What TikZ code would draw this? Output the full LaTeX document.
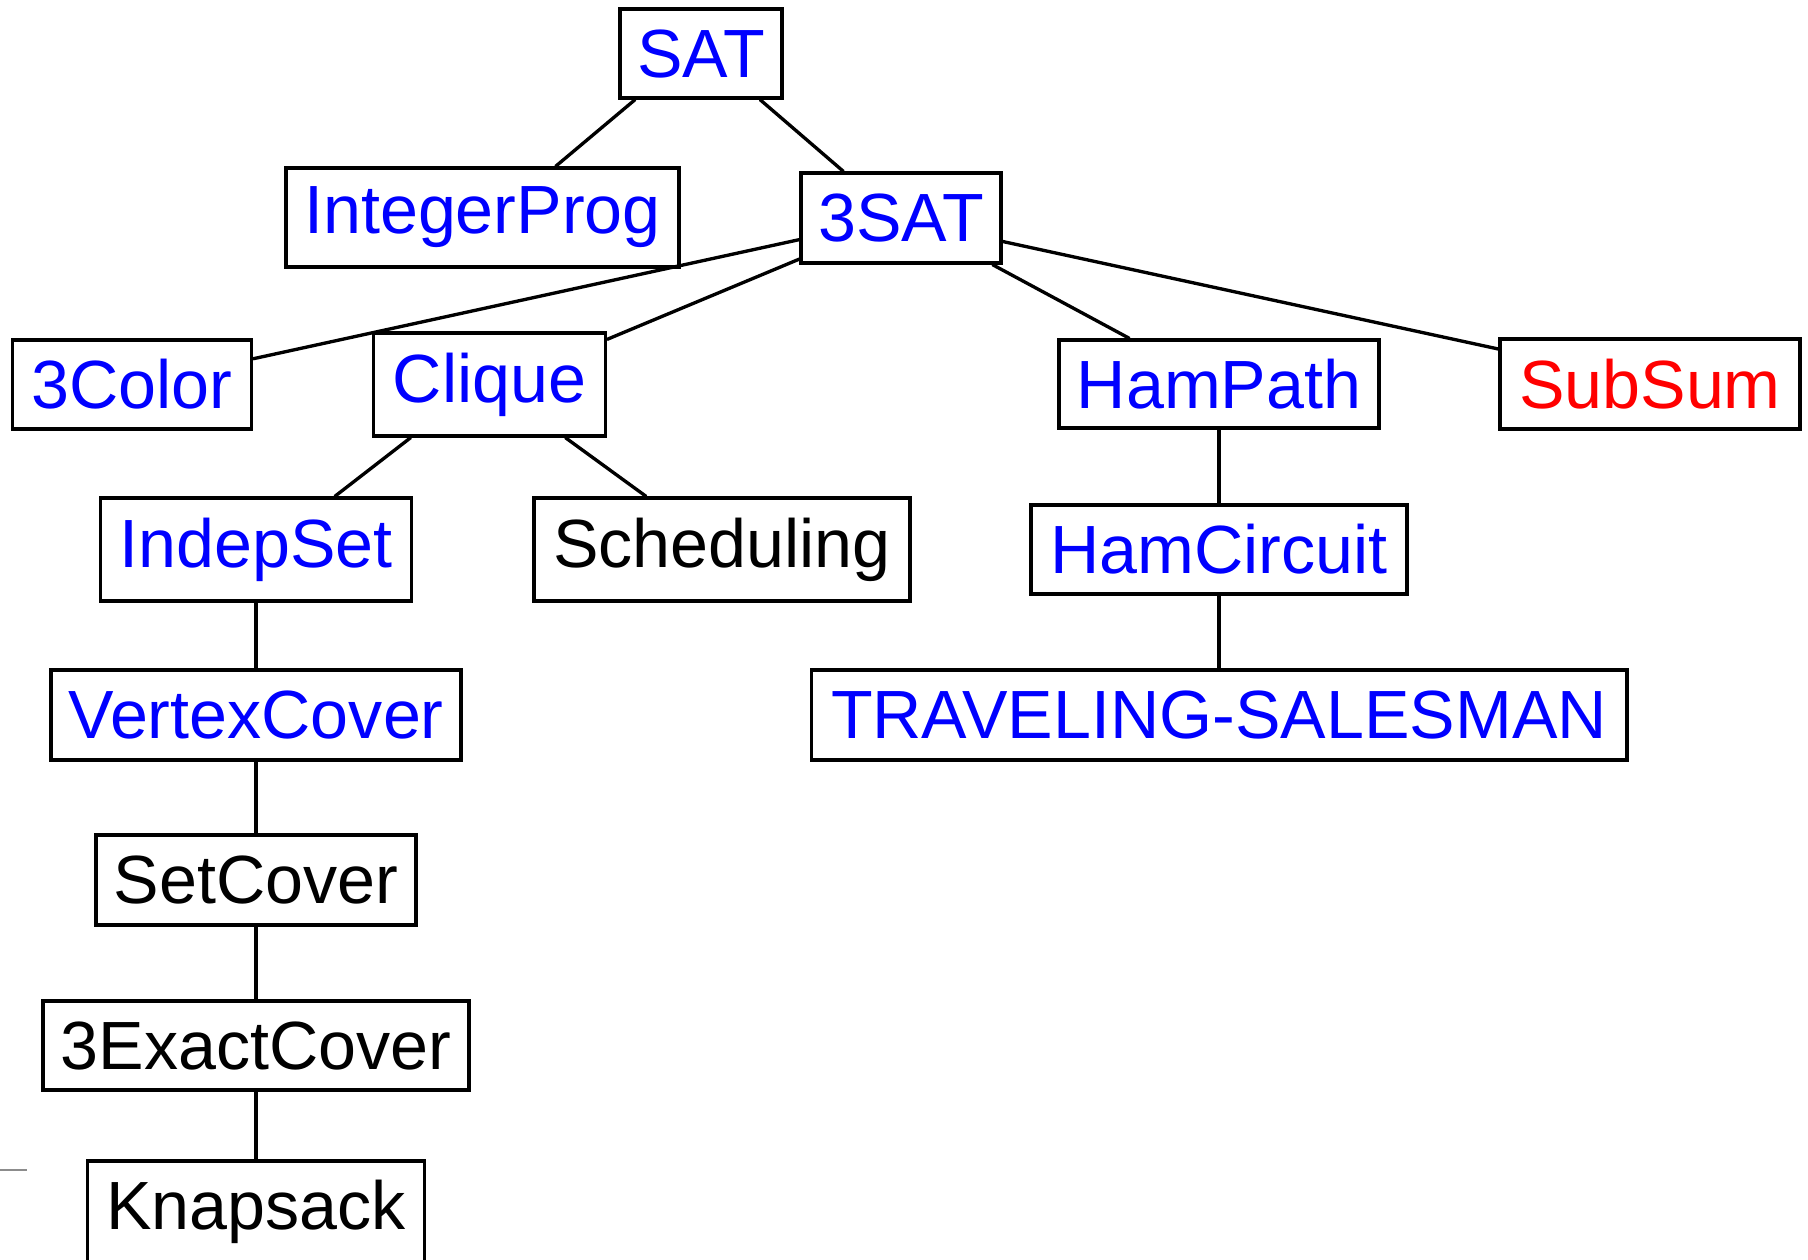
\documentclass[tikz,border=0pt]{standalone}
\usepackage{fontspec}
\setmainfont{Liberation Sans}
\begin{document}
\begin{tikzpicture}[x=0.01cm,y=-0.01cm,line cap=round]
  \tikzset{prob/.style={draw,line width=1pt,inner sep=0pt,text=blue,
      font=\fontsize{19.4}{23.5}\selectfont},
    link/.style={line width=0.95pt}}
  \useasboundingbox (0,0) rectangle (1808,1259);
  % problems
  \node[prob,minimum width=1.62cm,minimum height=0.89cm] (sat) at (701,53.5) {SAT};
  \node[prob,minimum width=3.93cm,minimum height=0.99cm] (intprog) at (482.5,217.5) {IntegerProg};
  \node[prob,minimum width=2.00cm,minimum height=0.90cm] (threesat) at (901,218) {3SAT};
  \node[prob,minimum width=2.39cm,minimum height=0.89cm] (threecolor) at (132,384.5) {3Color};
  \node[prob,minimum width=2.32cm,minimum height=1.03cm] (clique) at (489.5,384.5) {Clique};
  \node[prob,minimum width=3.20cm,minimum height=0.88cm] (hampath) at (1219,384) {HamPath};
  \node[prob,text=red,minimum width=3.00cm,minimum height=0.90cm] (subsum) at (1650,384) {SubSum};
  \node[prob,minimum width=3.11cm,minimum height=1.03cm] (indepset) at (256,549.5) {IndepSet};
  \node[prob,text=black,minimum width=3.76cm,minimum height=1.03cm] (scheduling) at (722,549.5) {Scheduling};
  \node[prob,minimum width=3.76cm,minimum height=0.89cm] (hamcircuit) at (1219,549.5) {HamCircuit};
  \node[prob,minimum width=8.15cm,minimum height=0.90cm] (tsp) at (1219,715) {TRAVELING-SALESMAN};
  \node[prob,minimum width=4.10cm,minimum height=0.90cm] (vertexcover) at (256,715) {VertexCover};
  \node[prob,text=black,minimum width=3.20cm,minimum height=0.90cm] (setcover) at (256,880) {SetCover};
  \node[prob,text=black,minimum width=4.26cm,minimum height=0.89cm] (exactcover) at (256,1045.5) {3ExactCover};
  \node[prob,text=black,minimum width=3.37cm,minimum height=1.01cm] (knapsack) at (256,1211.5) {Knapsack};
  % reductions
  \draw[link] (sat.215.2) -- (intprog.35.3);
  \draw[link] (sat.322) -- (threesat.141.2);
  \draw[link] (threesat.192.4) -- (threecolor.12.6);
  \draw[link] (threesat.202.8) -- (clique.21.9);
  \draw[link] (threesat.333.6) -- (hampath.153.4);
  \draw[link] (threesat.347.7) -- (subsum.167);
  \draw[link] (clique.214.3) -- (indepset.34.1);
  \draw[link] (clique.325.3) -- (scheduling.145.5);
  \draw[link] (hampath.south) -- (hamcircuit.north);
  \draw[link] (hamcircuit.south) -- (tsp.north);
  \draw[link] (indepset.south) -- (vertexcover.north);
  \draw[link] (vertexcover.south) -- (setcover.north);
  \draw[link] (setcover.south) -- (exactcover.north);
  \draw[link] (exactcover.south) -- (knapsack.north);
  \draw[black!45,line width=0.6pt,line cap=butt] (0,1170) -- (27,1170);
\end{tikzpicture}
\end{document}
